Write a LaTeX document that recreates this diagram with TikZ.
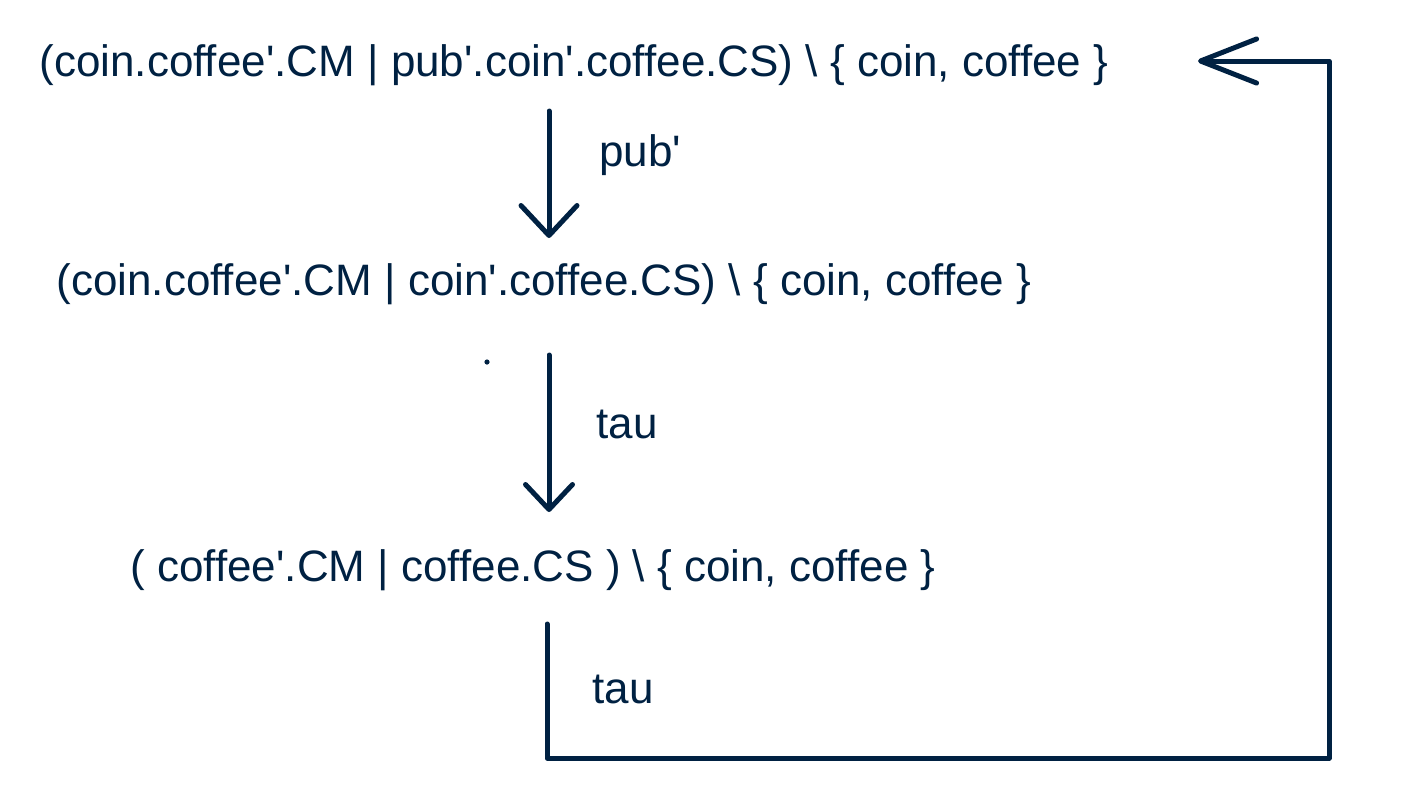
\documentclass[tikz,border=0pt]{standalone}
\usepackage{fontspec}
\setmainfont{Liberation Sans}
\usetikzlibrary{arrows.meta}
\definecolor{ink}{RGB}{0,33,66}
\newcommand{\q}{\textquotesingle}
\begin{document}
\begin{tikzpicture}[x=0.5pt,y=-0.5pt, color=ink, line width=2.5pt, line cap=round, line join=round,
  proc/.style={anchor=base west, inner sep=0pt, font=\fontsize{22}{26}\selectfont},
  lbl/.style={anchor=base west, inner sep=0pt, font=\fontsize{22}{26}\selectfont},
  headA/.style={-{Straight Barb[length=15pt,width=28pt,line width=2.5pt,round]}},
  headB/.style={-{Straight Barb[length=12.5pt,width=23.5pt,line width=2.5pt,round]}},
  headC/.style={-{Straight Barb[length=28pt,width=22pt,line width=2.5pt,round]}}]
\useasboundingbox (0,0) rectangle (1415,804);
\node[proc] (s1) at (37,76) {(coin.coffee\q.CM | pub\q.coin\q.coffee.CS) \textbackslash\ \{ coin, coffee \}};
\node[proc] (s2) at (54,295) {(coin.coffee\q.CM | coin\q.coffee.CS) \textbackslash\ \{ coin, coffee \}};
\node[proc] (s3) at (128,581) {( coffee\q.CM | coffee.CS ) \textbackslash\ \{ coin, coffee \}};
\node[lbl] (l1) at (597,166) {pub\q};
\node[lbl] (l2) at (594,438) {tau};
\node[lbl] (l3) at (590,703) {tau};
\fill (487,362) circle (1.3pt);
\coordinate (a1s) at (549,111);
\coordinate (a1e) at (549,238);
\coordinate (a2s) at (549,355);
\coordinate (a2e) at (549,512);
\coordinate (a3s) at (547,624);
\coordinate (c1) at (547,758);
\coordinate (c2) at (1329,758);
\coordinate (c3) at (1329,61);
\coordinate (a3e) at (1198,61);
\draw[headA] (a1s) -- (a1e);
\draw[headB] (a2s) -- (a2e);
\draw[headC] (a3s) -- (c1) -- (c2) -- (c3) -- (a3e);
\end{tikzpicture}
\end{document}
